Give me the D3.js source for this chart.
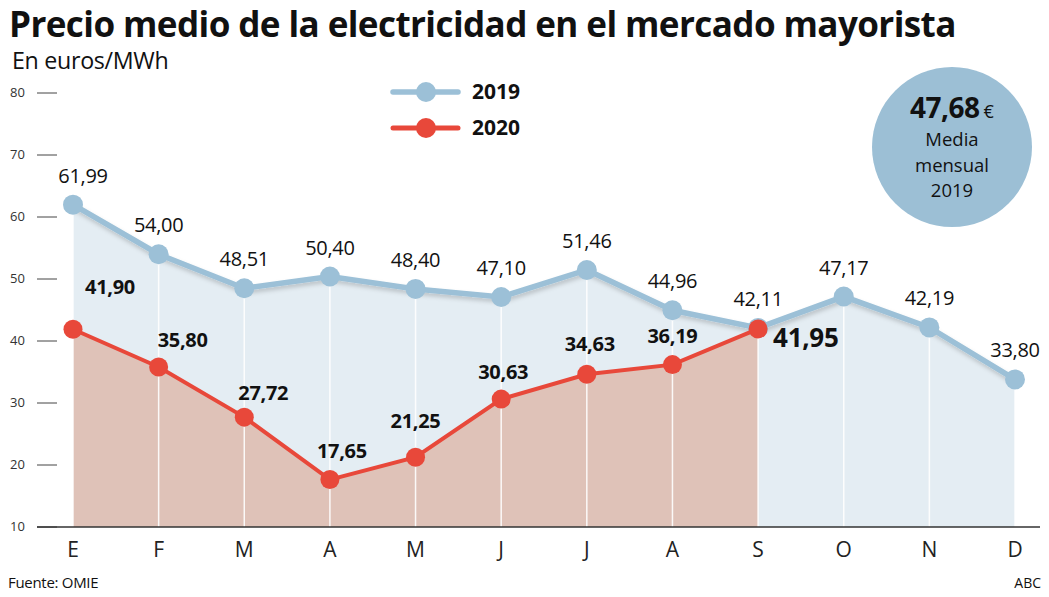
<!DOCTYPE html>
<html><head><meta charset="utf-8">
<script src="https://cdn.jsdelivr.net/npm/d3@7"></script>
<style>
body{margin:0;background:#fff;}
svg{display:block;font-family:"Open Sans","Noto Sans",sans-serif;}
</style></head>
<body>
<svg id="c" width="1049" height="597"></svg>
<script>
const months = ["E","F","M","A","M","J","J","A","S","O","N","D"];
const values2019 = [61.99,54.00,48.51,50.40,48.40,47.10,51.46,44.96,42.11,47.17,42.19,33.80];
const values2020 = [41.90,35.80,27.72,17.65,21.25,30.63,34.63,36.19,41.95];
const yTicks = [10,20,30,40,50,60,70,80];
const mean2019 = 47.68;

const svg = d3.select("#c");
const fmt = v => d3.format(".2f")(v).replace(".", ",");

const x = d3.scalePoint().domain(d3.range(months.length)).range([73, 1015]);
const y = d3.scaleLinear().domain([10, 80]).range([527, 93]);

function fitText(sel, w){
  const n = sel.node(); const l = n.getComputedTextLength();
  const fs = parseFloat(sel.attr("font-size"));
  sel.attr("font-size", fs * w / l);
}
const title = svg.append("text").attr("x", 9).attr("y", 37)
  .attr("font-size", 34).attr("font-weight", 700).attr("fill", "#111")
  .attr("letter-spacing", -0.6)
  .text("Precio medio de la electricidad en el mercado mayorista");
fitText(title, 946);
const sub = svg.append("text").attr("x", 12).attr("y", 69)
  .attr("font-size", 20).attr("fill", "#111").attr("letter-spacing", -0.3)
  .text("En euros/MWh");
fitText(sub, 156);

const defs = svg.append("defs");
const f = defs.append("filter").attr("id","sh").attr("x","-5%").attr("y","-20%").attr("width","110%").attr("height","140%");
f.append("feDropShadow").attr("dx",1).attr("dy",3).attr("stdDeviation",2).attr("flood-color","#000").attr("flood-opacity",0.18);

// Areas
const area = d3.area().x((d,i)=>x(i)).y0(y(10)).y1(d=>y(d));
svg.append("path").datum(values2019).attr("d", area).attr("fill", "#e4edf3");
svg.append("path").datum(values2020).attr("d", area).attr("fill", "#dfc2b8");

// white vertical guides
svg.append("g").selectAll("line").data(values2019).join("line")
  .attr("x1",(d,i)=>x(i)).attr("x2",(d,i)=>x(i))
  .attr("y1",d=>y(d)).attr("y2",y(10))
  .attr("stroke","#fff").attr("stroke-width",1.5).attr("opacity",0.9);

// Y axis
const yAxis = svg.append("g");
yAxis.selectAll("line").data(yTicks).join("line")
  .attr("x1",37).attr("x2",57).attr("y1",d=>y(d)).attr("y2",d=>y(d))
  .attr("stroke","#444").attr("stroke-width",1);
yAxis.selectAll("text").data(yTicks).join("text")
  .attr("x",10).attr("y",d=>y(d)+4).attr("font-size",13).attr("fill","#333")
  .text(d=>d);
svg.append("line").attr("x1",37).attr("x2",1040).attr("y1",y(10)).attr("y2",y(10))
  .attr("stroke","#333").attr("stroke-width",1.5);

// X labels
svg.append("g").selectAll("text").data(months).join("text")
  .attr("x",(d,i)=>x(i)).attr("y",557).attr("text-anchor","middle")
  .attr("font-size",21).attr("fill","#222").text(d=>d);

// Lines
const line = d3.line().x((d,i)=>x(i)).y(d=>y(d));
const blue = "#9cc0d7", red = "#e8483a";
svg.append("path").datum(values2019).attr("d", line).attr("fill","none")
  .attr("stroke", blue).attr("stroke-width",5.5).attr("filter","url(#sh)");
svg.append("g").selectAll("circle").data(values2019).join("circle")
  .attr("cx",(d,i)=>x(i)).attr("cy",d=>y(d)).attr("r",10).attr("fill",blue);
svg.append("path").datum(values2020).attr("d", line).attr("fill","none")
  .attr("stroke", red).attr("stroke-width",4);
svg.append("g").selectAll("circle").data(values2020).join("circle")
  .attr("cx",(d,i)=>x(i)).attr("cy",d=>y(d)).attr("r",9.5).attr("fill",red);

// Labels 2019
svg.append("g").selectAll("text").data(values2019).join("text")
  .attr("x",(d,i)=>x(i) + (i===0?10:0)).attr("y",d=>y(d)-22)
  .attr("text-anchor","middle").attr("font-size",20).attr("fill","#111")
  .attr("letter-spacing",-0.3)
  .text(d=>fmt(d));

// Labels 2020
const last = values2020.length-1;
const nudge2020 = [[37,-35],[24,-20],[19,-17],[12,-22],[0,-29],[2,-20],[3,-23],[0,-22]];
svg.append("g").selectAll("text").data(values2020).join("text")
  .attr("x",(d,i)=> i===last ? x(i)+15 : x(i)+nudge2020[i][0])
  .attr("y",(d,i)=> i===last ? y(d)+18 : y(d)+nudge2020[i][1])
  .attr("text-anchor",(d,i)=> i===last ? "start" : "middle")
  .attr("font-size",(d,i)=> i===last ? 26 : 20)
  .attr("letter-spacing",-0.3)
  .attr("font-weight",700).attr("fill","#111")
  .text(d=>fmt(d));

// Legend
const leg = svg.append("g");
[[2019, blue, 92, 5.5, 10],[2020, red, 128, 5, 10]].forEach(([t,c,yy,w,r])=>{
  leg.append("line").attr("x1",393).attr("x2",458).attr("y1",yy).attr("y2",yy)
    .attr("stroke",c).attr("stroke-width",w).attr("stroke-linecap","round");
  leg.append("circle").attr("cx",426).attr("cy",yy).attr("r",r).attr("fill",c);
  leg.append("text").attr("x",472).attr("y",yy+7).attr("font-size",21)
    .attr("font-weight",700).attr("fill","#111").text(t);
});

// Mean circle
const mc = svg.append("g");
mc.append("circle").attr("cx",952).attr("cy",147).attr("r",80).attr("fill","#9cbfd5");
const t1 = mc.append("text").attr("x",952).attr("y",118).attr("text-anchor","middle").attr("fill","#111");
t1.append("tspan").attr("font-size",28).attr("font-weight",700).attr("letter-spacing",-0.5).text(fmt(mean2019));
t1.append("tspan").attr("font-size",18).attr("dx",4).text("€");
["Media","mensual","2019"].forEach((s,i)=>{
  mc.append("text").attr("x",952).attr("y",146+i*25.5).attr("text-anchor","middle")
    .attr("font-size",18.5).attr("fill","#111").text(s);
});

// Footer
svg.append("text").attr("x",8).attr("y",588).attr("font-size",15).attr("fill","#111")
  .attr("letter-spacing",-0.3).text("Fuente: OMIE");
svg.append("text").attr("x",1041).attr("y",588).attr("font-size",14).attr("fill","#111")
  .attr("text-anchor","end").text("ABC");
</script>
</body></html>
